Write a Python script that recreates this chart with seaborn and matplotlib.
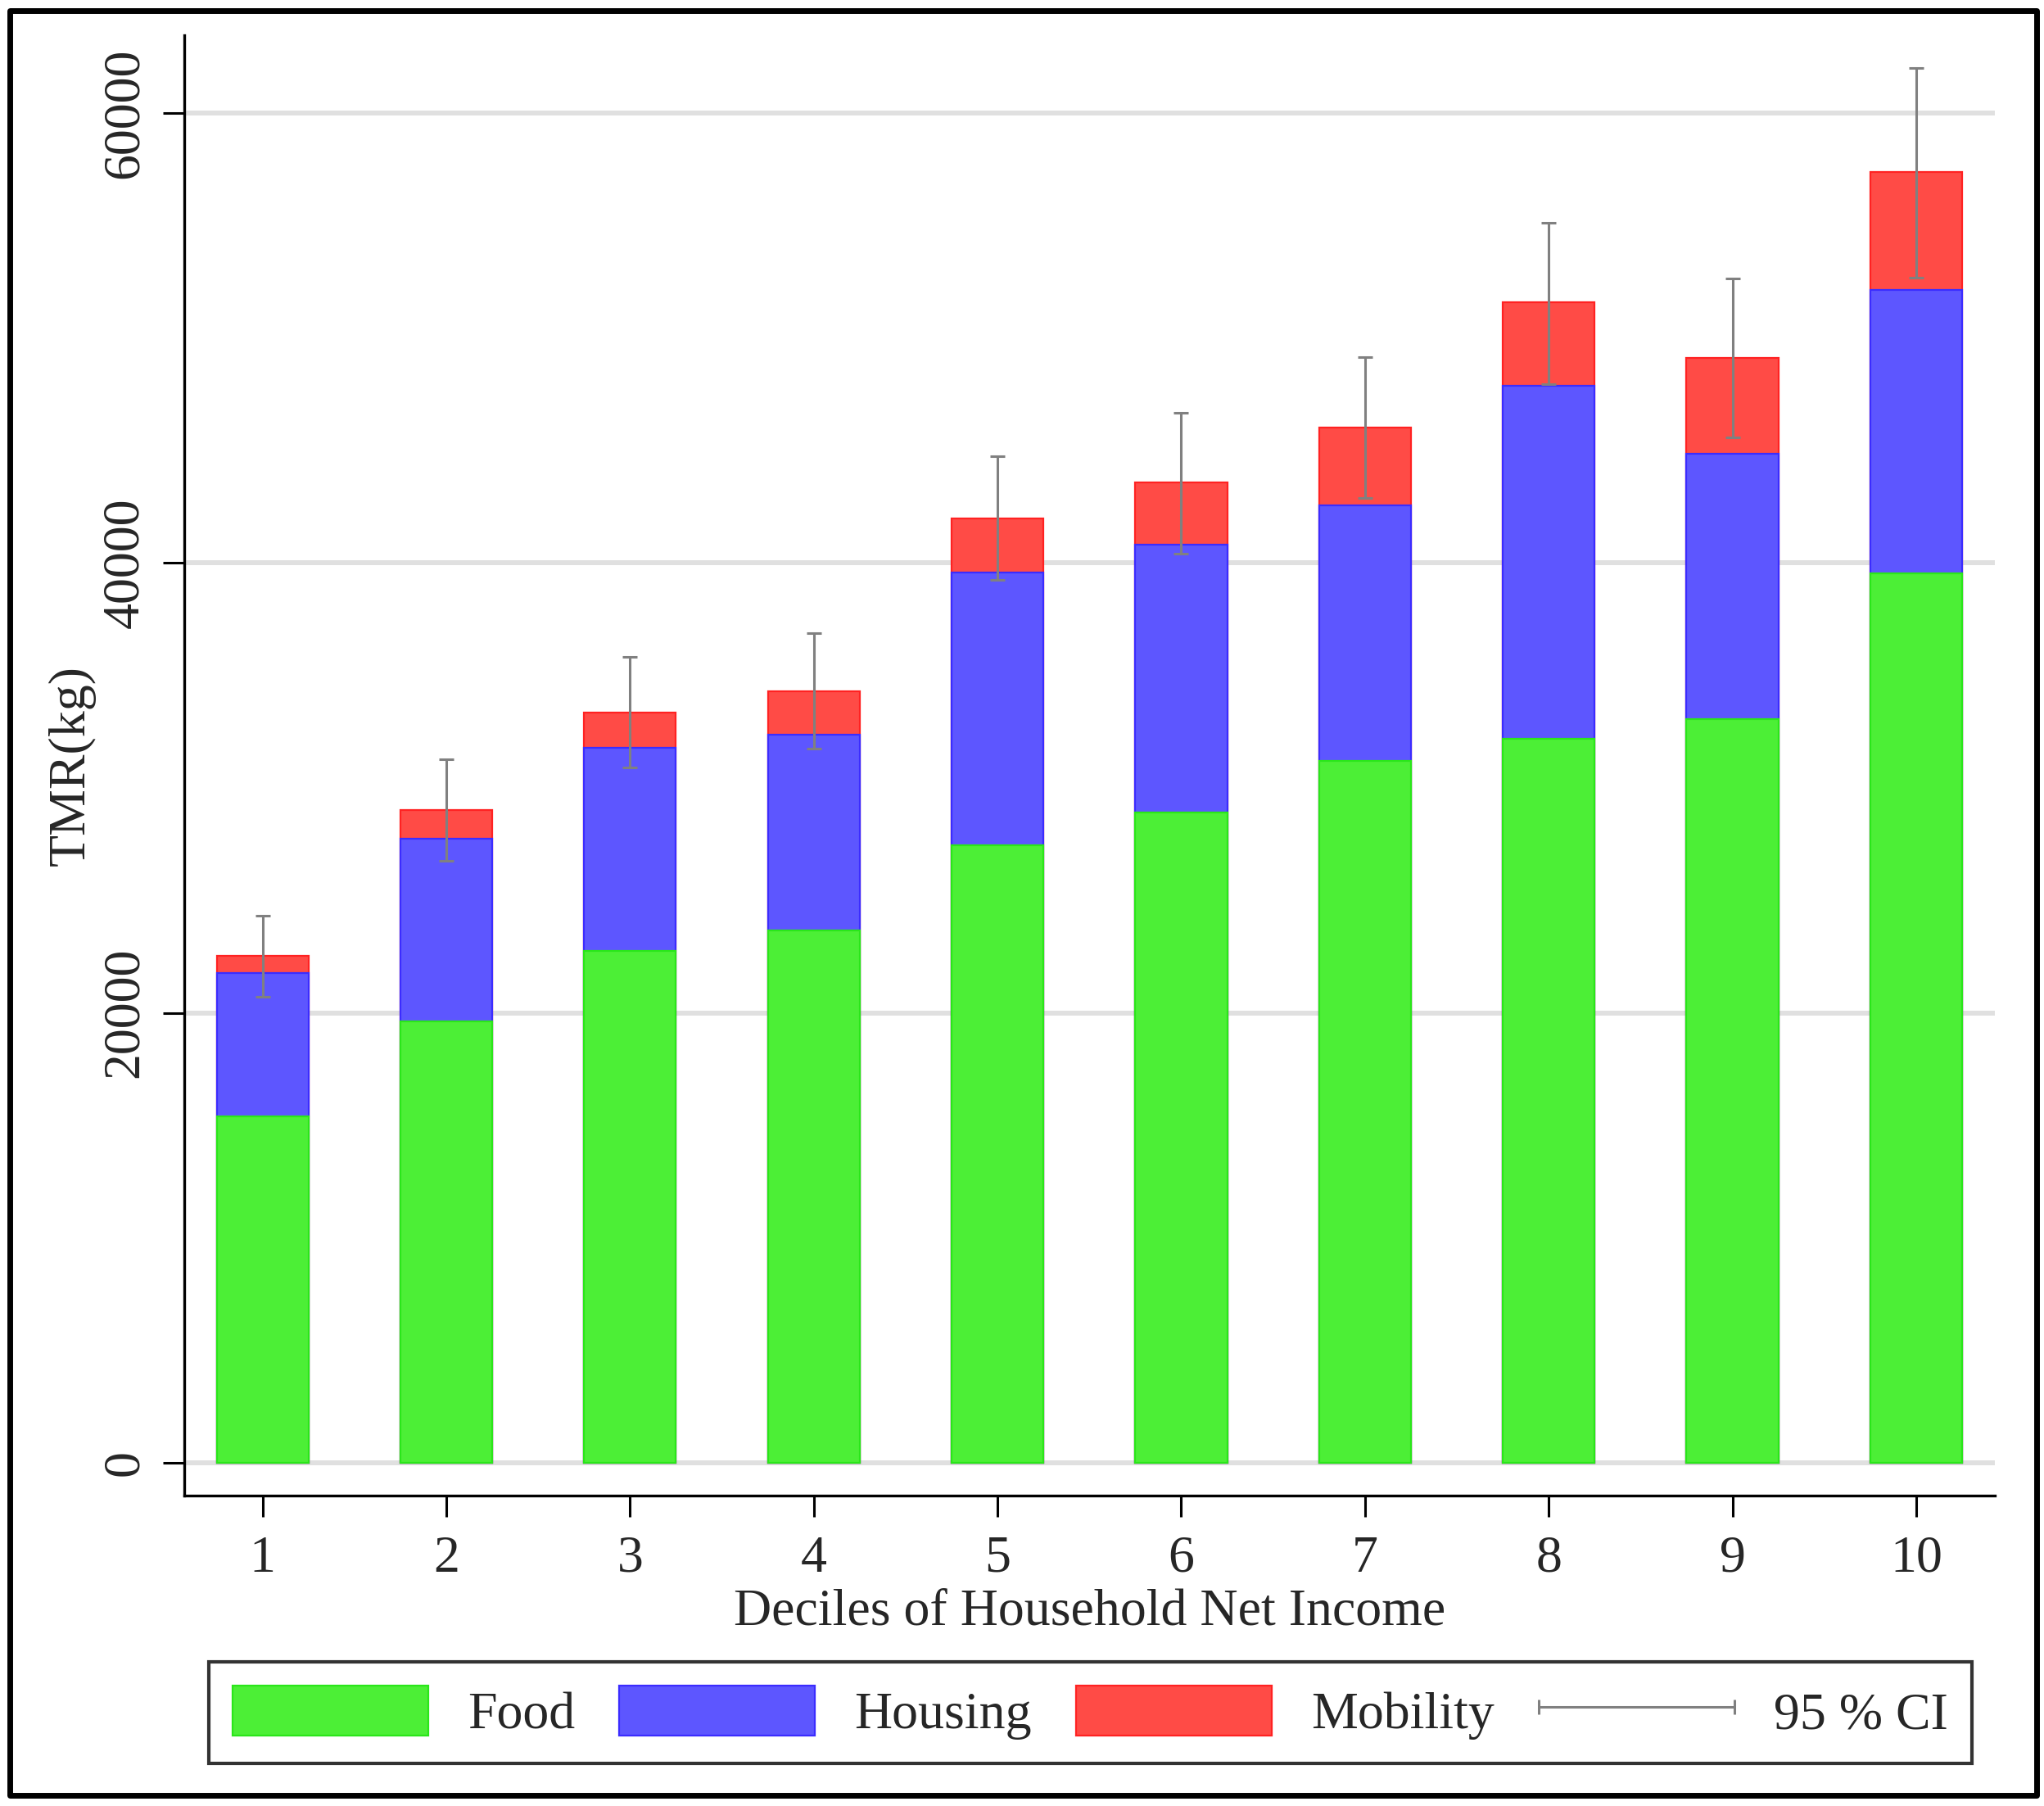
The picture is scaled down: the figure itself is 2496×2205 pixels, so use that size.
import pandas as pd
import numpy as np
import matplotlib.pyplot as plt
import matplotlib.patches as mpatches
from matplotlib.lines import Line2D
from matplotlib.legend_handler import HandlerLine2D
import seaborn as sns

deciles = ['1', '2', '3', '4', '5', '6', '7', '8', '9', '10']
food = [15410, 19640, 22770, 23680, 27450, 28890, 31210, 32190, 33060, 39550]
housing = [6350, 8100, 9020, 8690, 12120, 11940, 11350, 15690, 11810, 12580]
mobility = [770, 1270, 1560, 1910, 2420, 2740, 3470, 3710, 4230, 5250]
ci_low = [20730, 26750, 30920, 31730, 39250, 40430, 42900, 47940, 45570, 52700]
ci_high = [24330, 31270, 35840, 36880, 44760, 46680, 49160, 55120, 52630, 62000]

colors = {'Food': ('#4cef36', '#2ae61a'),
          'Housing': ('#5d56ff', '#3b2cff'),
          'Mobility': ('#ff4b46', '#ff2222')}

df = pd.DataFrame({'decile': deciles, 'Food': food, 'Housing': housing, 'Mobility': mobility})
df['cum_food'] = df['Food']
df['cum_housing'] = df['Food'] + df['Housing']
df['total'] = df['cum_housing'] + df['Mobility']

sns.set_theme(style='ticks')
plt.rcParams['font.family'] = ['Liberation Serif', 'DejaVu Serif']

fig = plt.figure(figsize=(24.96, 22.05), dpi=100)
ax = fig.add_axes([0.0901, 0.1719, 0.8860, 0.8086])

# stacked bars: draw tallest first, then cover
for col, name in [('total', 'Mobility'), ('cum_housing', 'Housing'), ('cum_food', 'Food')]:
    fc, ec = colors[name]
    sns.barplot(data=df, x='decile', y=col, color=fc, edgecolor=ec, linewidth=1.6,
                width=0.5, saturation=1, errorbar=None, ax=ax, zorder=2)

mid = (np.array(ci_low) + np.array(ci_high)) / 2
yerr = [mid - np.array(ci_low), np.array(ci_high) - mid]
ax.errorbar(np.arange(len(deciles)), mid, yerr=yerr, fmt='none', ecolor='#808080',
            elinewidth=2.2, capsize=6.5, capthick=2.2, zorder=3)

ax.set_xlim(-0.427, 9.43)
ax.set_ylim(-1456, 63460)
ax.set_yticks([0, 20000, 40000, 60000])
ax.yaxis.grid(True, color='#e0e0e0', linewidth=4.3)
ax.xaxis.grid(False)
ax.set_axisbelow(True)
sns.despine(ax=ax)
for s in ['left', 'bottom']:
    ax.spines[s].set_linewidth(2.4)
    ax.spines[s].set_color('black')

ax.tick_params(axis='both', length=19, width=2.2, color='black', labelsize=46)
ax.tick_params(axis='y', pad=12)
ax.tick_params(axis='x', pad=16)
for lab in ax.get_yticklabels():
    lab.set_rotation(90)
    lab.set_va('center')

ax.set_xlabel('Deciles of Household Net Income', fontsize=46, labelpad=5)
ax.set_ylabel('TMR(kg)', fontsize=46, labelpad=5)

handles = [mpatches.Patch(facecolor=colors[n][0], edgecolor=colors[n][1], linewidth=1.6, label=n)
           for n in ['Food', 'Housing', 'Mobility']]
ci_handle = Line2D([0], [0], color='#808080', linewidth=2.2, marker='|', markersize=13,
                   markeredgewidth=2.2, label='95 % CI')
handles.append(ci_handle)
leg = fig.legend(handles=handles, loc='center', bbox_to_anchor=(0.5334, 0.0517), ncol=4,
                 fontsize=46, frameon=True, fancybox=False, edgecolor='black',
                 handlelength=3.74, handleheight=1.08, handletextpad=0.75, columnspacing=0.85,
                 borderpad=0.46,
                 handler_map={ci_handle: HandlerLine2D(numpoints=2, marker_pad=0)})
leg.get_frame().set_linewidth(3)

frame = mpatches.Rectangle((0.005, 0.006), 0.9914, 0.9879, transform=fig.transFigure,
                           fill=False, edgecolor='black', linewidth=5, joinstyle='round')
fig.patches.append(frame)

fig.savefig('out.png', dpi=100)
